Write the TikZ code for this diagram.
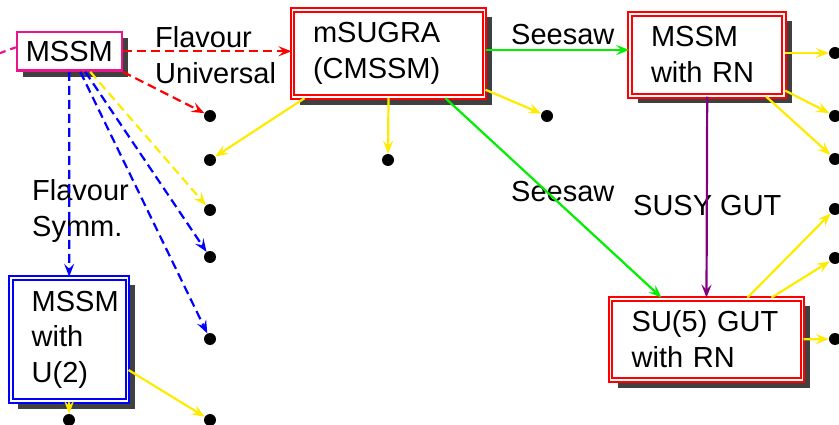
\documentclass[tikz,border=0pt]{standalone}
\usepackage{fontspec}
\setmainfont{Liberation Sans}
\usetikzlibrary{arrows.meta,shadows}
\definecolor{pinkline}{RGB}{235,20,140}
\definecolor{shadowgray}{RGB}{64,64,64}
\definecolor{lineyellow}{RGB}{255,235,0}
\definecolor{linegreen}{RGB}{0,240,0}
\definecolor{linepurple}{RGB}{128,0,128}
\begin{document}
\begin{tikzpicture}[x=1pt,y=-1pt,
  txt/.style={font=\fontsize{29}{35.5}\selectfont},
  lbltxt/.style={txt,align=left,inner sep=0pt,anchor=north west},
  boxtxt/.style={txt,align=left,inner ysep=0pt,fill=white},
  dbl/.style={double=white,line width=2pt,double distance=1.8pt},
  shad/.style={drop shadow={shadow xshift=#1,shadow yshift=-#1,fill=shadowgray,opacity=1}},
  blob/.style={circle,fill=black,minimum size=12pt,inner sep=0pt},
  conn/.style={line width=2.2pt},
  arr/.style={-{Stealth[length=13pt,width=10pt,inset=5pt]}},
  dsh/.style={dash pattern=on 9pt off 5pt}]
\useasboundingbox (0,0) rectangle (839,425);

% labels
\node[lbltxt] (lfu) at (155,26.5) {Flavour\\Universal};
\node[lbltxt] (lfs) at (32,179.3) {Flavour\\Symm.};
\node[lbltxt] (lss1) at (511,24.5) {Seesaw};
\node[lbltxt] (lss2) at (511,181) {Seesaw};
\node[lbltxt] (lsg) at (633,195) {SUSY GUT};

% model boxes
\node[boxtxt,draw=pinkline,line width=2.3pt,shad=6pt,
      minimum width=104.7pt,minimum height=38.7pt,align=center] (mssm) at (69.3,51.3) {MSSM};
\node[boxtxt,draw=red,dbl,shad=7.5pt,inner xsep=20.5pt,text width=151pt,
      minimum height=87.5pt] (msugra) at (388.5,53.5) {mSUGRA\\(CMSSM)};
\node[boxtxt,draw=red,dbl,shad=7.5pt,inner xsep=20.8pt,text width=112.4pt,
      minimum height=82pt] (mssmrn) at (707.2,54.65) {MSSM\\with RN};
\node[boxtxt,draw=red,dbl,shad=7.5pt,inner xsep=21.2pt,text width=149.6pt,
      minimum height=81.5pt] (su5) at (706.5,339.35) {SU(5) GUT\\with RN};
\node[boxtxt,draw=blue,dbl,shad=7.5pt,inner xsep=20.9pt,text width=74.9pt,
      minimum height=123.5pt] (u2) at (69.15,339.5) {MSSM\\with\\U(2)};

% end points
\node[blob] (d1) at (210,116) {};
\node[blob] (d2) at (210,160) {};
\node[blob] (d3) at (210,210) {};
\node[blob] (d4) at (210,257) {};
\node[blob] (d5) at (210,339) {};
\node[blob] (d6) at (210,420) {};
\node[blob] (d7) at (69,420) {};
\node[blob] (d8) at (388,160) {};
\node[blob] (d9) at (547,116) {};
\node[blob] (r1) at (835,53) {};
\node[blob] (r2) at (835,116) {};
\node[blob] (r3) at (835,159) {};
\node[blob] (r4) at (835,209) {};
\node[blob] (r5) at (835,258) {};
\node[blob] (r6) at (835,339) {};
\coordinate (offl) at (-16,59);

% connectors from MSSM
\draw[conn,pinkline,dsh] (offl) -- ([yshift=4pt]mssm.west);
\draw[conn,arr,red,dsh] (mssm.east) -- (mssm.east -| msugra.west);
\draw[conn,arr,red,dsh] (mssm.south east) -- (d1);
\draw[conn,arr,blue,dsh] (mssm.south) -- (u2.north);
\draw[conn,arr,blue,dsh] ([xshift=11pt]mssm.south) -- (d5);
\draw[conn,arr,blue,dsh] ([xshift=16pt]mssm.south) -- (d4);
\draw[conn,arr,lineyellow,dsh] ([xshift=21pt]mssm.south) -- (d3);

% connectors from mSUGRA
\draw[conn,arr,lineyellow] ([xshift=13pt]msugra.south west) -- (d2);
\draw[conn,arr,lineyellow] (msugra.south) -- (d8);
\draw[conn,arr,lineyellow] ([yshift=8.5pt]msugra.south east) -- (d9);
\draw[conn,arr,linegreen] ([yshift=3.5pt]msugra.east) coordinate (g1) -- (g1 -| mssmrn.west);
\draw[conn,arr,linegreen] ([xshift=-40pt]msugra.south east) -- ([xshift=-45pt]su5.north);

% connectors from MSSM with RN
\draw[conn,arr,linepurple] (mssmrn.south) -- (su5.north);
\draw[conn,arr,lineyellow] (mssmrn.east |- r1) -- (r1);
\draw[conn,arr,lineyellow] ([yshift=6pt]mssmrn.south east) -- (r2);
\draw[conn,arr,lineyellow] ([xshift=-19pt]mssmrn.south east) -- (r3);

% connectors from SU(5) GUT
\draw[conn,arr,lineyellow] ([xshift=41pt]su5.north) -- (r4);
\draw[conn,arr,lineyellow] ([xshift=65pt]su5.north) -- (r5);
\draw[conn,arr,lineyellow] (su5.east) -- (r6);

% connectors from MSSM with U(2)
\draw[conn,arr,lineyellow] ([yshift=-30.5pt]u2.east) -- (d6);
\draw[conn,arr,lineyellow] (u2.south) -- (d7);
\end{tikzpicture}
\end{document}
